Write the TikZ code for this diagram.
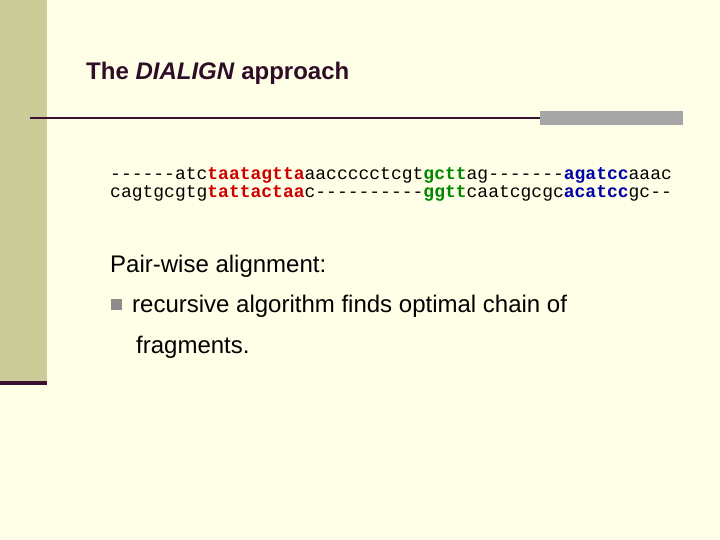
\documentclass[tikz,border=0pt]{standalone}
\usepackage{fontspec}
\setmainfont{Liberation Sans}
\newfontfamily\mono{Liberation Mono}
\definecolor{bg}{HTML}{FFFFE8}
\definecolor{olive}{HTML}{CCCC99}
\definecolor{plum}{HTML}{3C1030}
\definecolor{rd}{HTML}{CC0000}
\definecolor{gr}{HTML}{008800}
\definecolor{bl}{HTML}{0000AA}
\newcommand{\R}[1]{\textbf{\textcolor{rd}{#1}}}
\newcommand{\G}[1]{\textbf{\textcolor{gr}{#1}}}
\newcommand{\B}[1]{\textbf{\textcolor{bl}{#1}}}
\begin{document}
\begin{tikzpicture}[x=1pt,y=-1pt,
  txt/.style={anchor=west,inner sep=0pt},
  body/.style={txt,font=\fontsize{24}{28}\selectfont},
  seq/.style={txt,font=\mono\fontsize{18}{21}\selectfont}]
\useasboundingbox (0,0) rectangle (720,540);
\fill[bg] (0,0) rectangle (720,540);
\fill[olive] (0,0) rectangle (47,382);
\fill[plum] (0,381) rectangle (47,385);
\draw[plum,line width=1.3] (30,118) -- (540,118);
\fill[black!35] (540,111) rectangle (683,125);
\node[txt,font=\fontsize{24}{28}\selectfont\bfseries,text=plum!80!black] (title) at (86,73) {The \textit{DIALIGN} approach};
\node[seq] (s1) at (110,175) {------atc\R{taatagtta}aaccccctcgt\G{gctt}ag-------\B{agatcc}aaac};
\node[seq] (s2) at (110,193) {cagtgcgtg\R{tattactaa}c----------\G{ggtt}caatcgcgc\B{acatcc}gc--};
\node[body] (pw) at (110,266) {Pair-wise alignment:};
\fill[black!45] (111,299) rectangle (122,310);
\node[body] (b1) at (132,306) {recursive algorithm finds optimal chain of};
\node[body] (b2) at (136,347) {fragments.};
\end{tikzpicture}
\end{document}
